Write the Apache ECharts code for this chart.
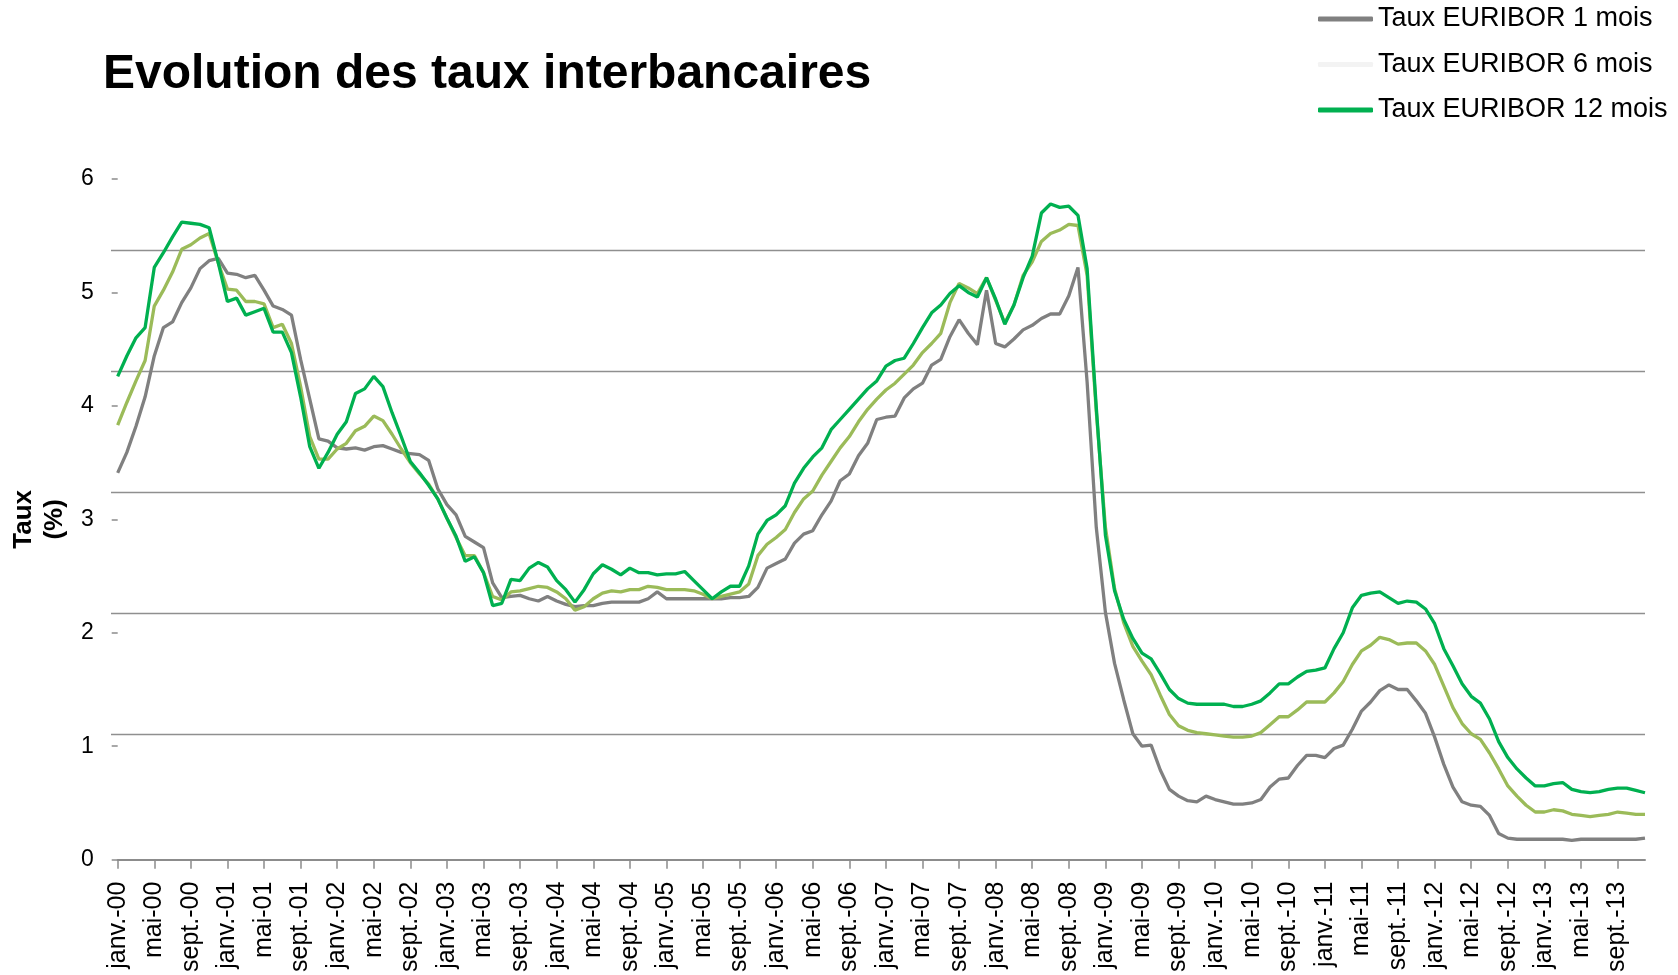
<!DOCTYPE html>
<html>
<head>
<meta charset="utf-8">
<script src="https://cdn.jsdelivr.net/npm/echarts@6/dist/echarts.min.js"></script>
<style>
html,body{margin:0;padding:0;background:#fff;}
#chart{width:1678px;height:975px;}
</style>
</head>
<body>
<div id="chart"></div>
<script>
// ---- Data ----
const MONTH_NAMES = ['janv.','févr.','mars','avr.','mai','juin','juil.','août','sept.','oct.','nov.','déc.'];
const YEARS = ['00','01','02','03','04','05','06','07','08','09','10','11','12','13'];
const SERIES_NAMES = ['Taux EURIBOR 1 mois','Taux EURIBOR 6 mois','Taux EURIBOR 12 mois'];
const Y_TICKS = [0,1,2,3,4,5,6];

const euribor1m = [
3.41,3.59,3.82,4.08,4.44,4.69,4.74,4.91,5.04,5.21,5.28,5.30,
5.17,5.16,5.13,5.15,5.02,4.88,4.85,4.80,4.41,4.06,3.71,3.69,
3.63,3.62,3.63,3.61,3.64,3.65,3.62,3.59,3.58,3.57,3.52,3.27,
3.13,3.04,2.85,2.80,2.75,2.44,2.31,2.32,2.33,2.30,2.28,2.32,
2.28,2.25,2.23,2.24,2.24,2.26,2.27,2.27,2.27,2.27,2.30,2.36,
2.30,2.30,2.30,2.30,2.30,2.30,2.30,2.31,2.31,2.32,2.40,2.57,
2.61,2.65,2.79,2.87,2.90,3.04,3.16,3.34,3.40,3.56,3.67,3.88,
3.90,3.91,4.07,4.15,4.20,4.36,4.41,4.61,4.76,4.64,4.54,5.02,
4.55,4.52,4.59,4.67,4.71,4.77,4.81,4.81,4.97,5.22,4.21,2.93,
2.18,1.73,1.41,1.11,1.00,1.01,0.79,0.62,0.56,0.52,0.51,0.56,
0.53,0.51,0.49,0.49,0.50,0.53,0.64,0.71,0.72,0.83,0.92,0.92,
0.90,0.98,1.01,1.15,1.31,1.39,1.49,1.54,1.50,1.50,1.40,1.29,
1.08,0.84,0.64,0.51,0.48,0.47,0.39,0.23,0.19,0.18,0.18,0.18,
0.18,0.18,0.18,0.17,0.18,0.18,0.18,0.18,0.18,0.18,0.18,0.19
];
const euribor6m = [
3.83,4.03,4.22,4.40,4.88,5.02,5.18,5.38,5.42,5.48,5.52,5.26,
5.03,5.02,4.92,4.92,4.90,4.69,4.72,4.55,4.17,3.73,3.53,3.53,
3.62,3.67,3.78,3.82,3.91,3.87,3.75,3.62,3.50,3.40,3.31,3.18,
3.01,2.84,2.68,2.68,2.53,2.32,2.29,2.36,2.37,2.39,2.41,2.40,
2.36,2.30,2.20,2.23,2.30,2.35,2.37,2.36,2.38,2.38,2.41,2.40,
2.38,2.38,2.38,2.37,2.34,2.30,2.32,2.34,2.36,2.43,2.68,2.78,
2.84,2.91,3.06,3.18,3.25,3.39,3.51,3.63,3.73,3.86,3.97,4.06,
4.14,4.20,4.28,4.36,4.47,4.55,4.64,4.91,5.08,5.04,4.99,5.13,
4.93,4.73,4.89,5.15,5.27,5.45,5.52,5.55,5.60,5.59,5.15,3.95,
2.93,2.39,2.09,1.88,1.75,1.63,1.45,1.28,1.18,1.14,1.12,1.11,
1.10,1.09,1.08,1.08,1.09,1.12,1.19,1.26,1.26,1.32,1.39,1.39,
1.39,1.47,1.57,1.72,1.84,1.89,1.96,1.94,1.90,1.91,1.91,1.84,
1.72,1.53,1.34,1.20,1.11,1.06,0.94,0.80,0.65,0.56,0.48,0.42,
0.42,0.44,0.43,0.40,0.39,0.38,0.39,0.40,0.42,0.41,0.40,0.40
];
const euribor12m = [
4.26,4.44,4.60,4.69,5.22,5.35,5.49,5.62,5.61,5.60,5.57,5.26,
4.92,4.95,4.80,4.83,4.86,4.65,4.65,4.47,4.08,3.64,3.45,3.59,
3.75,3.86,4.11,4.15,4.26,4.17,3.94,3.73,3.51,3.41,3.30,3.18,
3.01,2.85,2.63,2.67,2.53,2.24,2.26,2.47,2.46,2.57,2.62,2.58,
2.46,2.38,2.27,2.38,2.52,2.60,2.56,2.51,2.57,2.53,2.53,2.51,
2.52,2.52,2.54,2.46,2.38,2.30,2.36,2.41,2.41,2.59,2.87,2.99,
3.04,3.12,3.32,3.45,3.55,3.63,3.79,3.88,3.97,4.06,4.15,4.22,
4.35,4.40,4.42,4.55,4.69,4.82,4.89,4.99,5.06,5.00,4.96,5.13,
4.94,4.72,4.89,5.13,5.32,5.70,5.78,5.75,5.76,5.68,5.21,3.99,
2.86,2.37,2.12,1.95,1.82,1.77,1.64,1.50,1.42,1.38,1.37,1.37,
1.37,1.37,1.35,1.35,1.37,1.40,1.47,1.55,1.55,1.61,1.66,1.67,
1.69,1.86,2.00,2.22,2.33,2.35,2.36,2.31,2.26,2.28,2.27,2.21,
2.08,1.86,1.71,1.55,1.44,1.38,1.24,1.04,0.90,0.80,0.72,0.65,
0.65,0.67,0.68,0.62,0.60,0.59,0.60,0.62,0.63,0.63,0.61,0.59
];

// category labels: one per month
const categories = [];
YEARS.forEach(y => MONTH_NAMES.forEach(m => categories.push(m + '-' + y)));

// ---- Chart ----
const FONT = '"Liberation Sans", Arial, Helvetica, sans-serif';
const chart = echarts.init(document.getElementById('chart'), null, {renderer: 'canvas'});

const option = {
  backgroundColor: '#ffffff',
  animation: false,
  textStyle: {fontFamily: FONT, color: '#000'},
  title: {
    text: 'Evolution des taux interbancaires',
    left: 103, top: 51, padding: 0,
    textStyle: {fontFamily: FONT, fontSize: 48, fontWeight: 'bold', color: '#000'}
  },
  legend: {
    orient: 'vertical',
    left: 1318, top: 4, padding: 0,
    itemWidth: 55, itemHeight: 5, itemGap: 15.5,
    icon: 'roundRect',
    textStyle: {fontFamily: FONT, fontSize: 27, color: '#000', lineHeight: 30},
    data: [
      {name: SERIES_NAMES[0], itemStyle: {color: '#808080'}},
      {name: SERIES_NAMES[1], itemStyle: {color: '#f3f3f3'}},
      {name: SERIES_NAMES[2], itemStyle: {color: '#00b050'}}
    ]
  },
  grid: [
    {left: 114, right: 33, top: 179, bottom: 114, containLabel: false},
    {left: 111, right: 33, top: 129, bottom: 120, containLabel: false}
  ],
  xAxis: [
    {
      type: 'category', gridIndex: 0, data: categories, boundaryGap: false,
      axisLine: {show: true, lineStyle: {color: '#8c8c8c', width: 2}},
      axisTick: {show: true, interval: 3, length: 9, lineStyle: {color: '#8c8c8c', width: 1.5}},
      axisLabel: {interval: 3, rotate: 90, margin: 22, fontSize: 25, color: '#000', fontFamily: FONT},
      splitLine: {show: false}
    },
    {type: 'value', gridIndex: 1, show: false, min: 0, max: 1}
  ],
  yAxis: [
    {
      type: 'value', gridIndex: 0, min: Y_TICKS[0], max: Y_TICKS[Y_TICKS.length - 1], interval: 1,
      name: 'Taux\n(%)', nameLocation: 'middle', nameGap: 47, nameRotate: 90,
      nameTextStyle: {fontFamily: FONT, fontSize: 26, fontWeight: 'bold', color: '#000', lineHeight: 31},
      axisLine: {show: false},
      axisTick: {show: true, length: 6, lineStyle: {color: '#8c8c8c', width: 1.5}},
      axisLabel: {margin: 24, fontSize: 23, color: '#000', fontFamily: FONT},
      splitLine: {show: false}
    },
    {
      type: 'value', gridIndex: 1, min: 0, max: 6, interval: 1,
      axisLine: {show: false}, axisTick: {show: false}, axisLabel: {show: false},
      splitLine: {show: true, showMinLine: false, showMaxLine: false, lineStyle: {color: '#8f8f8f', width: 1.3}}
    }
  ],
  series: [
    {
      name: SERIES_NAMES[0], type: 'line', xAxisIndex: 0, yAxisIndex: 0, data: euribor1m,
      showSymbol: false, symbol: 'none', z: 3,
      itemStyle: {color: '#808080'},
      lineStyle: {color: '#808080', width: 3.3}
    },
    {
      name: SERIES_NAMES[1], type: 'line', xAxisIndex: 0, yAxisIndex: 0, data: euribor6m,
      showSymbol: false, symbol: 'none', z: 4,
      itemStyle: {color: '#f3f3f3'},
      lineStyle: {color: '#9bbb59', width: 3.3}
    },
    {
      name: SERIES_NAMES[2], type: 'line', xAxisIndex: 0, yAxisIndex: 0, data: euribor12m,
      showSymbol: false, symbol: 'none', z: 5,
      itemStyle: {color: '#00b050'},
      lineStyle: {color: '#00b050', width: 3.3}
    }
  ]
};
chart.setOption(option);
</script>
</body>
</html>
